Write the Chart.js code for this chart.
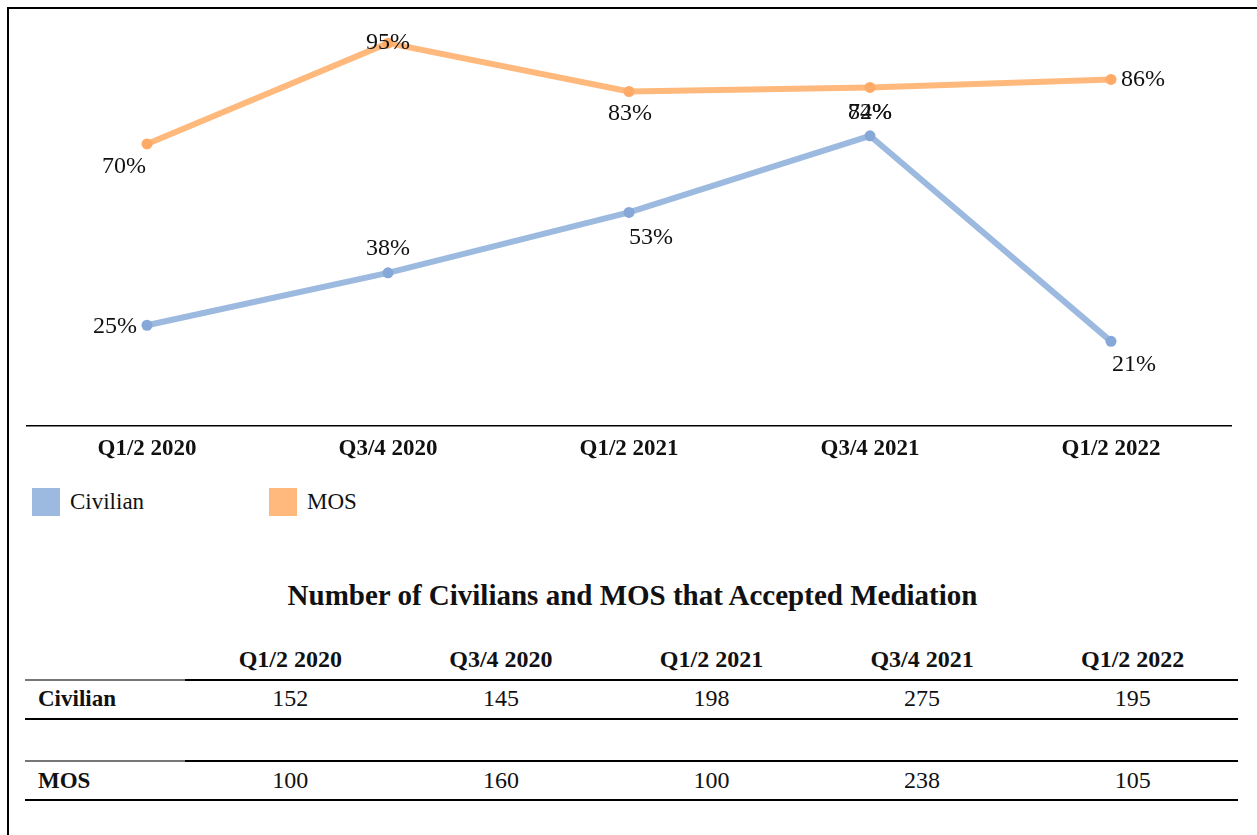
<!DOCTYPE html>
<html>
<head>
<meta charset="utf-8">
<script src="https://cdn.jsdelivr.net/npm/chart.js@4.4.1/dist/chart.umd.min.js"></script>
<style>
  html, body { margin: 0; padding: 0; background: #fff; }
  body { width: 1257px; height: 835px; position: relative; overflow: hidden;
         font-family: 'Liberation Serif', 'Times New Roman', serif; color: #111; }
  #frame { position: absolute; left: 7px; top: 7px; width: 1300px; height: 900px;
           border-left: 2px solid #000; border-top: 2px solid #000; }
  #chartWrap { position: absolute; left: 0; top: 0; width: 1257px; height: 470px; }
  #legend { position: absolute; left: 0; top: 488px; height: 28px; }
  .lg { position: absolute; top: 0; height: 28px; display: flex; align-items: center; white-space: nowrap; }
  .lg .box { width: 28px; height: 28px; margin-right: 10px; }
  .lg .txt { font-size: 23px; }
  #tTitle { position: absolute; left: 0; width: 1265px; top: 579px; text-align: center;
            font-weight: bold; font-size: 29px; }
  #tbl { position: absolute; left: 25px; top: 640px; }
  .cell { position: absolute; text-align: center; font-size: 24px; }
  .hdr { font-weight: bold; font-size: 24px; }
  .rl { font-weight: bold; text-align: left; font-size: 23px; }
  .ln { position: absolute; height: 2px; background: #000; }
  .gl { position: absolute; height: 2px; background: #777; }
</style>
</head>
<body>
<div id="frame"></div>
<div id="chartWrap"><canvas id="c" width="1257" height="470"></canvas></div>
<div id="legend"></div>
<div id="tTitle">Number of Civilians and MOS that Accepted Mediation</div>
<div id="tbl"></div>
<script>
// ---- data ----
const categories = ['Q1/2 2020', 'Q3/4 2020', 'Q1/2 2021', 'Q3/4 2021', 'Q1/2 2022'];
const seriesNames = ['Civilian', 'MOS'];
const civilianPct = [25, 38, 53, 72, 21];
const mosPct = [70, 95, 83, 84, 86];
const civilianCount = [152, 145, 198, 275, 195];
const mosCount = [100, 160, 100, 238, 105];

// ---- styles ----
const FONT = "'Liberation Serif', 'Times New Roman', serif";
const colors = ['#9CB9DF', '#FFB97D'];
const pointColors = ['#86A8D8', '#FFAA66'];
// label offsets (dx, dy) from each point, in pixels
const labelOffsets = [
  [[-32, 1], [0, -24], [22, 25], [0, -23], [23, 23]],
  [[-23, 23], [0, 0], [1, 22], [0, 25], [32, 0]]
];

const labelPlugin = {
  id: 'pointLabels',
  afterDatasetsDraw(chart) {
    const ctx = chart.ctx;
    ctx.save();
    ctx.font = '24px ' + FONT;
    ctx.fillStyle = '#111';
    ctx.textAlign = 'center';
    ctx.textBaseline = 'middle';
    chart.data.datasets.forEach((ds, di) => {
      const meta = chart.getDatasetMeta(di);
      meta.data.forEach((pt, i) => {
        const off = labelOffsets[di][i];
        ctx.fillText(ds.data[i] + '%', pt.x + off[0], pt.y + off[1]);
      });
    });
    ctx.restore();
  }
};

new Chart(document.getElementById('c'), {
  type: 'line',
  data: {
    labels: categories,
    datasets: [
      { label: seriesNames[0], data: civilianPct, borderColor: colors[0], backgroundColor: pointColors[0],
        pointBackgroundColor: pointColors[0], pointBorderColor: pointColors[0],
        borderWidth: 6, pointRadius: 5.5, pointBorderWidth: 0, tension: 0 },
      { label: seriesNames[1], data: mosPct, borderColor: colors[1], backgroundColor: pointColors[1],
        pointBackgroundColor: pointColors[1], pointBorderColor: pointColors[1],
        borderWidth: 6, pointRadius: 5.5, pointBorderWidth: 0, tension: 0 }
    ]
  },
  options: {
    responsive: false,
    animation: false,
    devicePixelRatio: 1,
    layout: { padding: { left: 26.5, right: 25.5, top: 23, bottom: 0 } },
    plugins: { legend: { display: false }, tooltip: { enabled: false } },
    scales: {
      y: { display: false, min: 0, max: 100 },
      x: {
        offset: true,
        grid: { display: false, drawTicks: false },
        border: { display: true, color: '#000', width: 1.5 },
        ticks: { color: '#111', padding: 9, font: { family: FONT, size: 23, weight: 'bold' } },
        afterFit: s => { s.height = 44; }
      }
    }
  },
  plugins: [labelPlugin]
});

// ---- legend (HTML) ----
const legendX = [32, 269];
const lg = document.getElementById('legend');
seriesNames.forEach((n, i) => {
  const d = document.createElement('div');
  d.className = 'lg';
  d.style.left = legendX[i] + 'px';
  d.innerHTML = '<div class="box" style="background:' + colors[i] + '"></div><span class="txt">' + n + '</span>';
  lg.appendChild(d);
});

// ---- table (HTML) ----
const tbl = document.getElementById('tbl');
const firstW = 160, colW = 210.6, totalW = firstW + colW * 5;
function cell(text, left, top, w, cls) {
  const d = document.createElement('div');
  d.className = 'cell ' + (cls || '');
  d.style.left = left + 'px'; d.style.top = top + 'px'; d.style.width = w + 'px';
  d.textContent = text;
  tbl.appendChild(d);
}
function line(top, left, w, cls) {
  const d = document.createElement('div');
  d.className = cls; d.style.top = top + 'px'; d.style.left = left + 'px'; d.style.width = w + 'px';
  tbl.appendChild(d);
}
categories.forEach((c, i) => cell(c, firstW + colW * i, 6, colW, 'hdr'));
line(39, 0, firstW, 'gl'); line(39, firstW, colW * 5, 'ln');
cell(seriesNames[0], 13, 46, firstW, 'rl');
civilianCount.forEach((v, i) => cell(v, firstW + colW * i, 45, colW));
line(78, 0, totalW, 'ln');
line(120, 0, firstW, 'gl'); line(120, firstW, colW * 5, 'ln');
cell(seriesNames[1], 13, 128, firstW, 'rl');
mosCount.forEach((v, i) => cell(v, firstW + colW * i, 127, colW));
line(159, 0, totalW, 'ln');
</script>
</body>
</html>
